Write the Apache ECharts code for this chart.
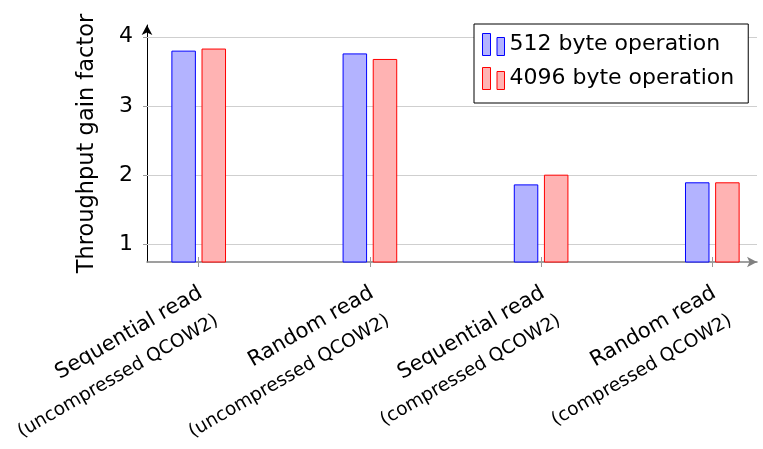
<!DOCTYPE html>
<html>
<head>
<meta charset="utf-8">
<script src="https://cdn.jsdelivr.net/npm/echarts@6/dist/echarts.min.js"></script>
<style>
  html, body { margin: 0; padding: 0; background: #fff; }
  #chart { width: 763px; height: 449px; }
</style>
</head>
<body>
<div id="chart"></div>
<script>
// Workload names (first label line) and image type (second label line)
const workloads = ['Sequential read', 'Random read', 'Sequential read', 'Random read'];
const imageTypes = ['(uncompressed QCOW2)', '(uncompressed QCOW2)', '(compressed QCOW2)', '(compressed QCOW2)'];

// Throughput gain factor per workload
const gain512 = [3.80, 3.76, 1.87, 1.90];
const gain4096 = [3.83, 3.68, 2.01, 1.90];

const seriesNames = ['512 byte operation', '4096 byte operation'];
const yTicks = [1, 2, 3, 4];
const categoryPositions = workloads.map((_, i) => i);

const FONT = 'DejaVu Sans';
const BLUE = { fill: '#b3b3ff', line: '#0000ff' };
const RED = { fill: '#ffb3b3', line: '#ff0000' };
const LEGEND_ICON = 'path://M0,0H8V22H0Z M14.5,4H22V22H14.5Z';

const toPoints = vals => vals.map((v, i) => [categoryPositions[i], v]);

const chart = echarts.init(document.getElementById('chart'), null, { renderer: 'canvas' });

chart.setOption({
  animation: false,
  backgroundColor: '#fff',
  textStyle: { fontFamily: FONT },
  grid: { left: 147, right: 6, top: 25, bottom: 187, containLabel: false, outerBoundsMode: 'none' },
  legend: {
    orient: 'vertical',
    left: 474,
    top: 24,
    padding: [9, 14, 13, 8],
    itemGap: 11,
    itemWidth: 22,
    itemHeight: 22,
    borderColor: '#000',
    borderWidth: 1,
    backgroundColor: '#fff',
    textStyle: { fontFamily: FONT, fontSize: 22, color: '#000' },
    data: [
      { name: seriesNames[0], icon: LEGEND_ICON, itemStyle: { color: BLUE.fill, borderColor: BLUE.line, borderWidth: 1 } },
      { name: seriesNames[1], icon: LEGEND_ICON, itemStyle: { color: RED.fill, borderColor: RED.line, borderWidth: 1 } }
    ]
  },
  xAxis: [
    {
      type: 'value',
      min: -0.302,
      max: 3.261,
      position: 'bottom',
      splitLine: { show: false },
      axisLine: {
        show: true,
        onZero: false,
        symbol: ['none', 'arrow'],
        symbolSize: [8, 10],
        lineStyle: { color: '#808080', width: 1.5 }
      },
      axisTick: { show: true, customValues: categoryPositions, length: 5, lineStyle: { color: '#999' } },
      axisLabel: {
        show: true,
        customValues: categoryPositions,
        rotate: 30,
        margin: 10,
        align: 'right',
        verticalAlign: 'top',
        padding: [2, 8, 0, 0],
        hideOverlap: false,
        formatter: v => {
          const i = Math.round(v);
          return '{a|' + workloads[i] + '}\n{b|' + imageTypes[i] + '}';
        },
        rich: {
          a: { fontFamily: FONT, fontSize: 21, lineHeight: 32, align: 'right', color: '#000' },
          b: { fontFamily: FONT, fontSize: 18.5, lineHeight: 32, align: 'right', color: '#000' }
        }
      }
    },
    {
      // inward half of the category ticks
      type: 'value',
      min: -0.302,
      max: 3.261,
      position: 'bottom',
      axisLine: { show: false },
      splitLine: { show: false },
      axisLabel: { show: false },
      axisTick: { show: true, inside: true, customValues: categoryPositions, length: 5, lineStyle: { color: '#999' } }
    }
  ],
  yAxis: {
    type: 'value',
    min: 0.75,
    max: 4.17,
    name: 'Throughput gain factor',
    nameLocation: 'middle',
    nameRotate: 90,
    nameGap: 48,
    nameTextStyle: { fontFamily: FONT, fontSize: 22.5, color: '#000' },
    splitLine: { show: false },
    axisLine: {
      show: true,
      onZero: false,
      symbol: ['none', 'arrow'],
      symbolSize: [8, 10],
      lineStyle: { color: '#000', width: 1 }
    },
    axisTick: { show: true, customValues: yTicks, length: 4, lineStyle: { color: '#999' } },
    axisLabel: {
      customValues: yTicks,
      margin: 14,
      fontFamily: FONT,
      fontSize: 22,
      color: '#000'
    }
  },
  series: [
    {
      name: seriesNames[0],
      type: 'bar',
      xAxisIndex: 0,
      z: 2,
      barWidth: 24.5,
      barGap: '23%',
      data: toPoints(gain512),
      itemStyle: { color: BLUE.fill, borderColor: BLUE.line, borderWidth: 1 },
      markLine: {
        silent: true,
        z: 1,
        symbol: ['none', 'none'],
        label: { show: false },
        lineStyle: { color: '#cfcfcf', width: 1, type: 'solid' },
        data: yTicks.map(t => ({ yAxis: t }))
      }
    },
    {
      name: seriesNames[1],
      type: 'bar',
      xAxisIndex: 0,
      z: 2,
      barWidth: 24.5,
      data: toPoints(gain4096),
      itemStyle: { color: RED.fill, borderColor: RED.line, borderWidth: 1 }
    }
  ]
});
</script>
</body>
</html>
